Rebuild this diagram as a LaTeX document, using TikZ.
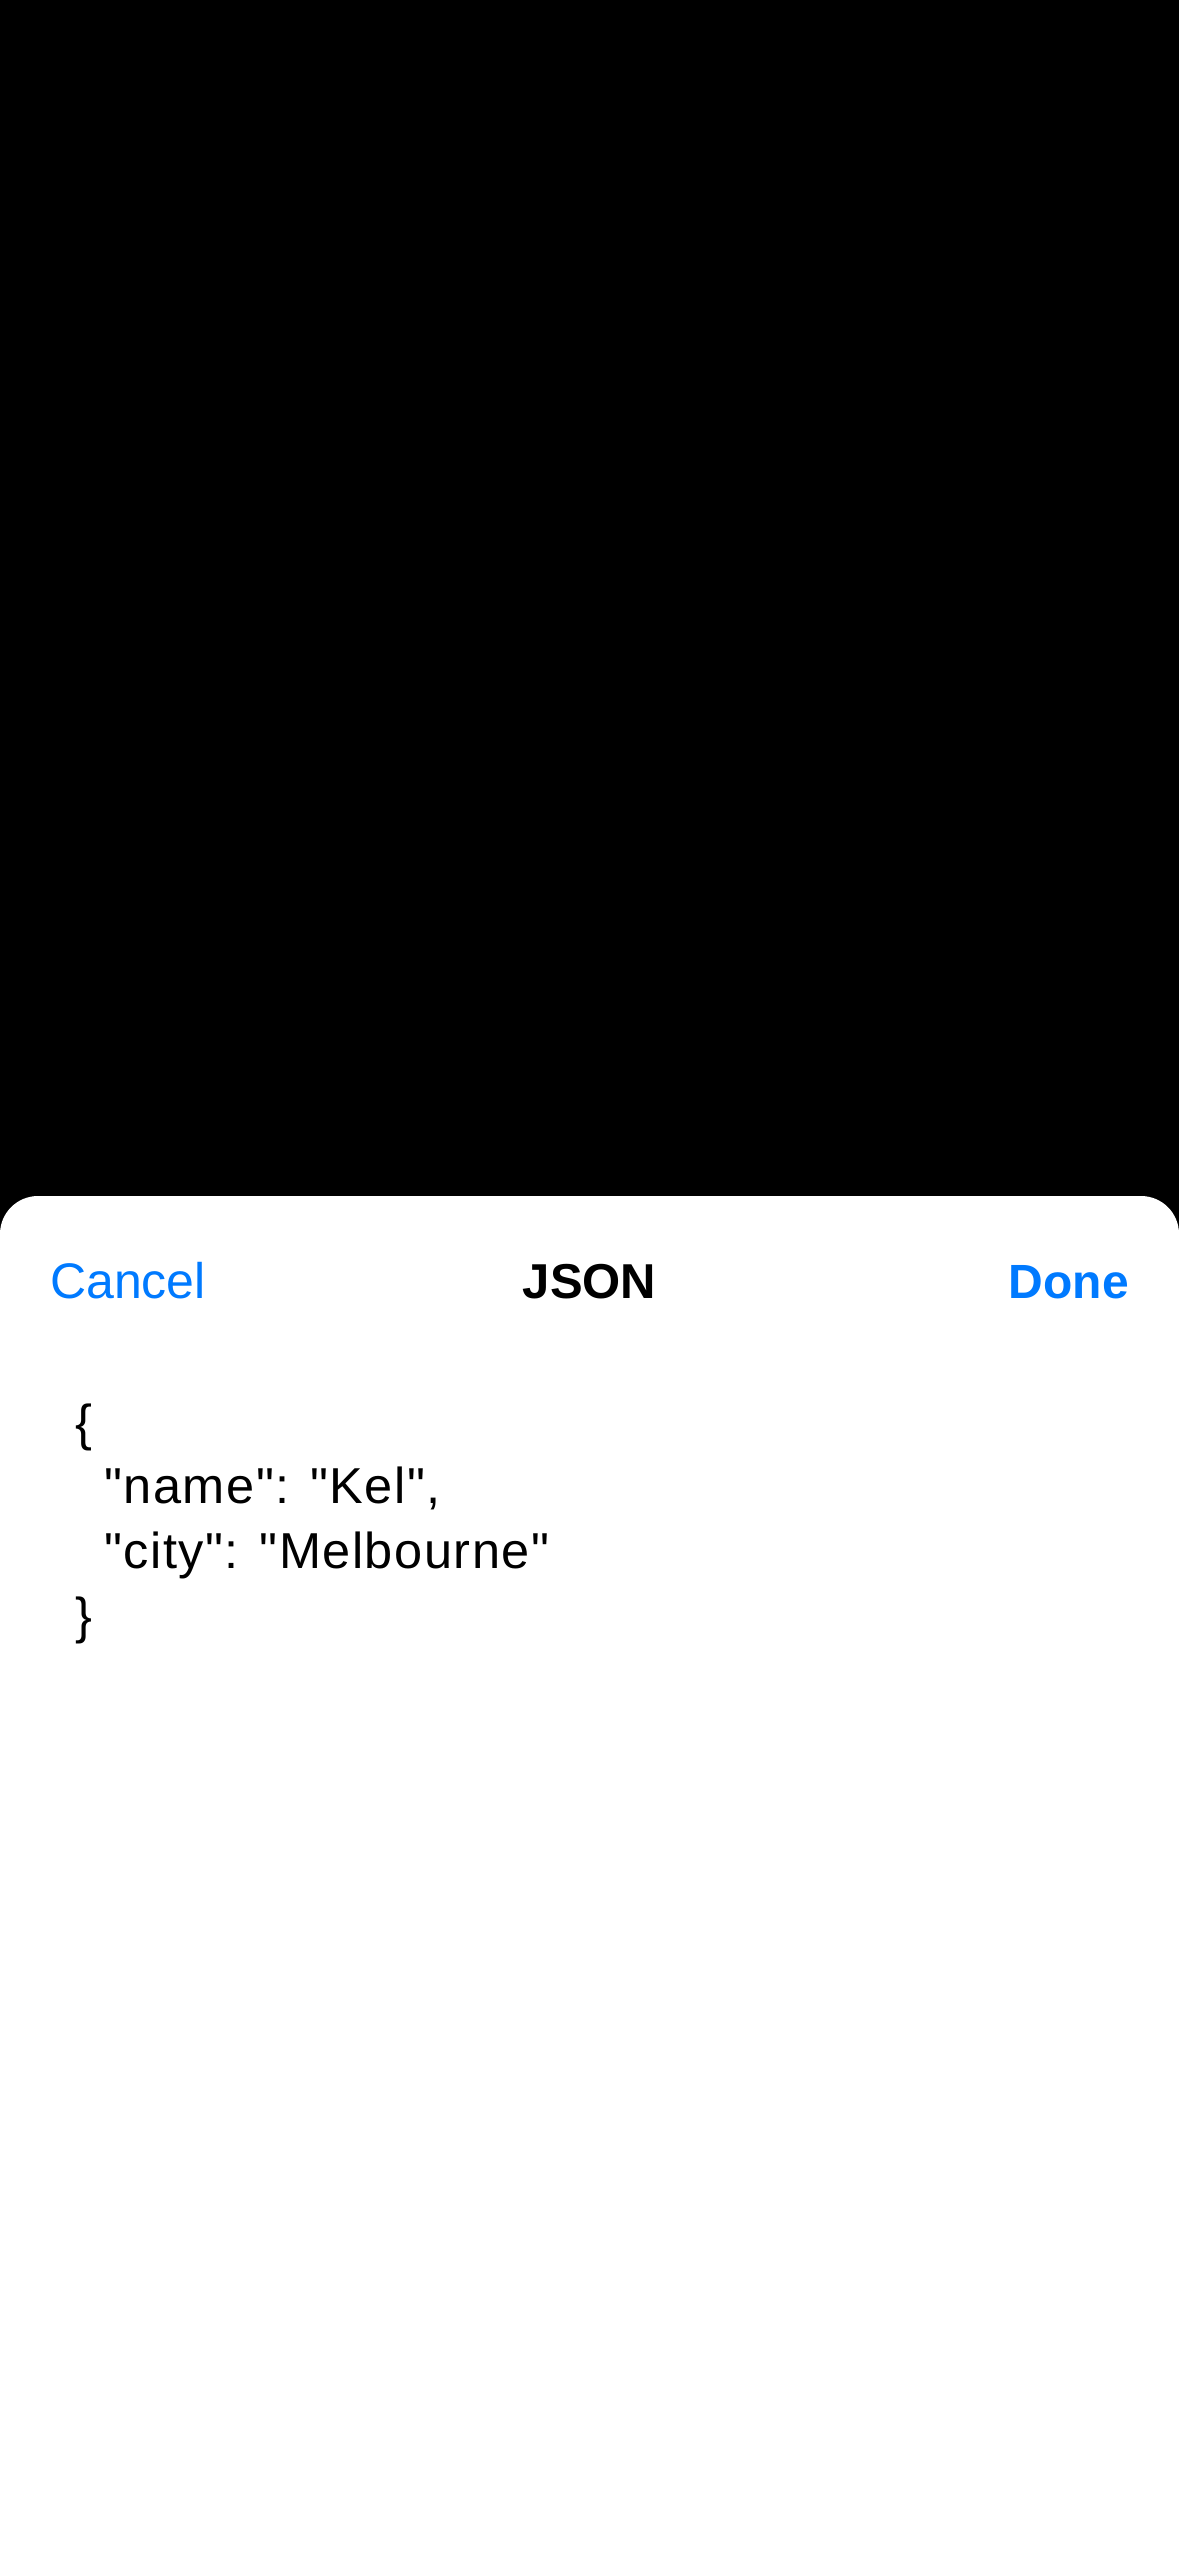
\documentclass[tikz,border=0pt]{standalone}
\usepackage{fontspec}
\setmainfont{Liberation Sans}
\newfontfamily\bodyfont[LetterSpace=3.0]{Liberation Sans}
\definecolor{iosblue}{HTML}{007AFF}
\begin{document}
\begin{tikzpicture}[x=1pt,y=-1pt,
  navtext/.style={inner sep=0pt, font=\fontsize{50}{60}\selectfont},
  navbtn/.style={navtext, text=iosblue},
  navtitle/.style={inner sep=0pt, font=\fontsize{49}{60}\selectfont\bfseries, text=black},
  codeline/.style={inner sep=0pt, anchor=base west, font=\bodyfont\fontsize{50.5}{60}\selectfont, text=black}]
\useasboundingbox (0,0) rectangle (1179,2556);
\clip (0,0) rectangle (1179,2556);
\fill[black] (0,0) rectangle (1179,2556);
\fill[white, rounded corners=38pt] (0,1196) rectangle (1179,2640);
% navigation bar
\node[navbtn, anchor=base west] (cancel) at (50,1298) {Cancel};
\node[navtitle, anchor=base] (title) at (589.5,1298) {JSON};
\node[navbtn, anchor=base east, font=\fontsize{48}{60}\selectfont\bfseries] (done) at (1129,1298) {Done};
% JSON body
\node[codeline] (open) at (75,1440) {\{};
\node[codeline] (name) at (104,1503) {"name": "Kel",};
\node[codeline] (city) at (104,1568) {"city": "Melbourne"};
\node[codeline] (close) at (75,1633) {\}};
\end{tikzpicture}
\end{document}
